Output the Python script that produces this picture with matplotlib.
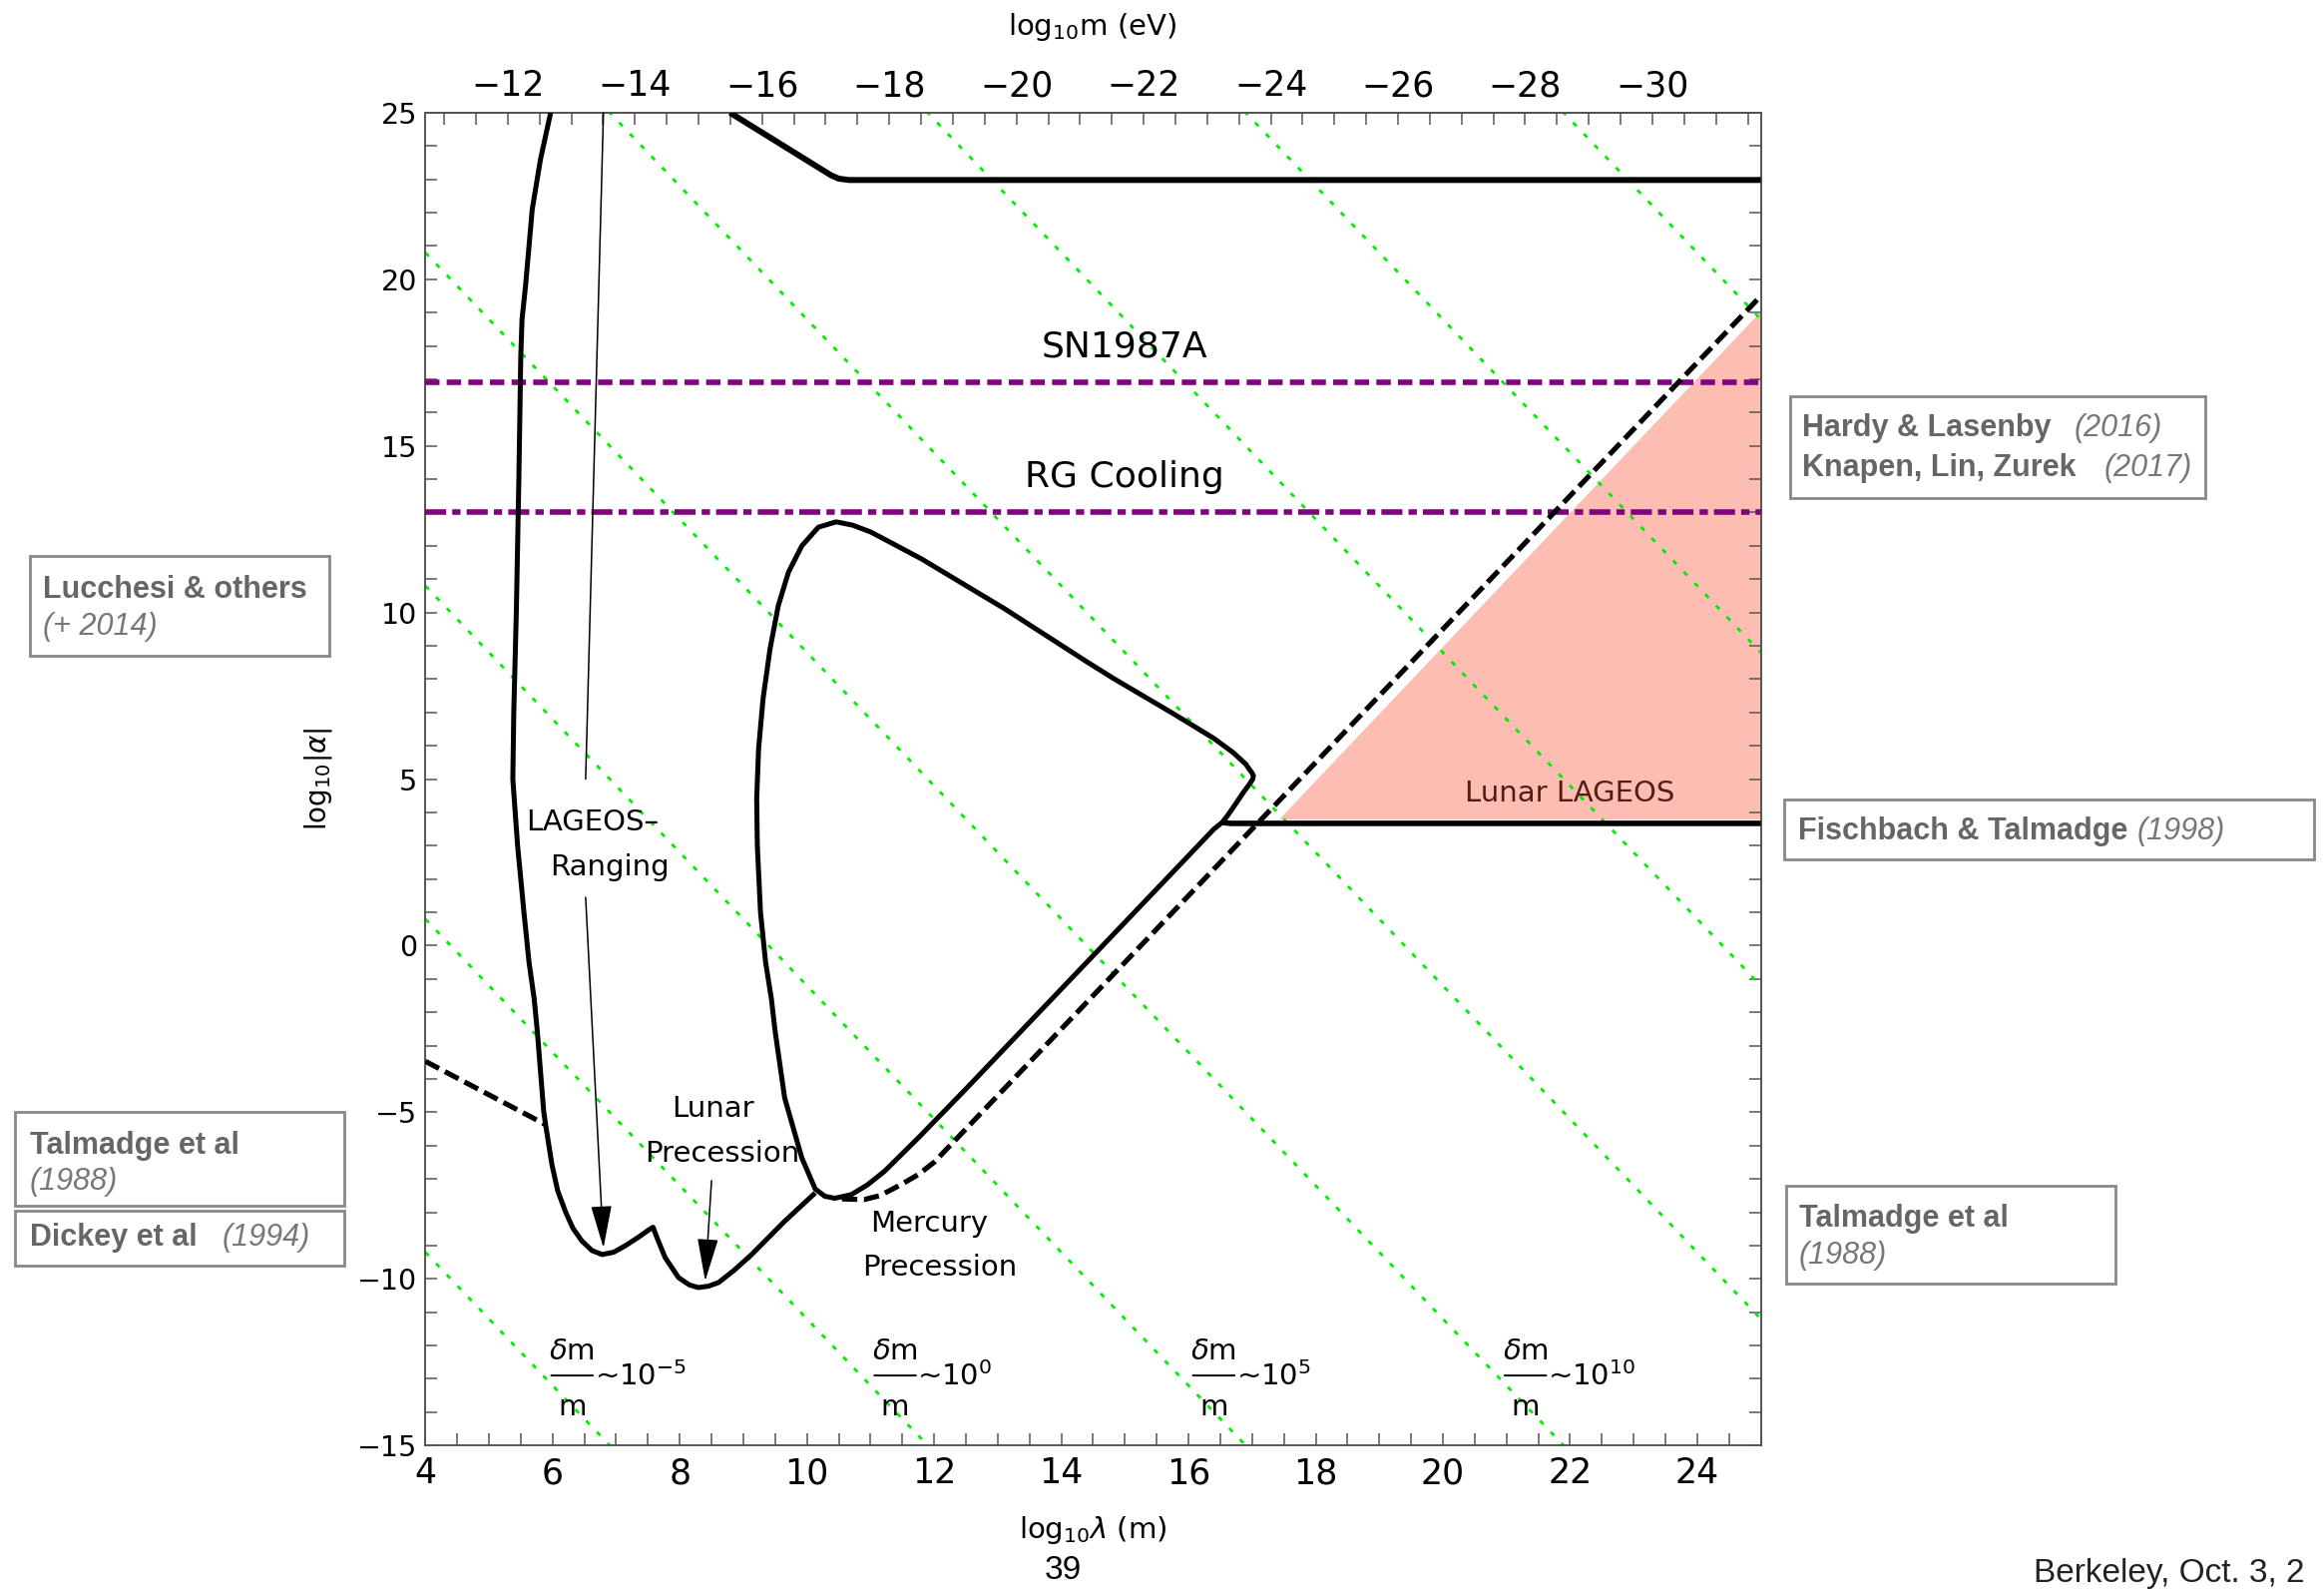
import matplotlib
matplotlib.use('Agg')
import matplotlib.pyplot as plt
from matplotlib.patches import Rectangle, Polygon
from matplotlib.ticker import MultipleLocator
from matplotlib import font_manager

W, H, DPI = 2329, 1593, 100

# ---------------- data ----------------
LOG_HBARC = -6.705          # log10(hbar*c in eV m)

X_TICKS = [4, 6, 8, 10, 12, 14, 16, 18, 20, 22, 24]
Y_TICKS = [-15, -10, -5, 0, 5, 10, 15, 20, 25]
M_TICKS = [-12, -14, -16, -18, -20, -22, -24, -26, -28, -30]

# upper limit (top right)
TOP_X = [8.79, 10.38, 10.50, 10.66, 25.0]
TOP_Y = [25.0, 23.12, 23.02, 22.98, 22.98]

# LAGEOS ranging + lunar precession curve
LAG_X = [5.97, 5.81, 5.68, 5.575, 5.52, 5.50, 5.47, 5.43, 5.39, 5.375, 5.45, 5.55,
         5.63, 5.71, 5.76, 5.86, 5.89, 5.99, 6.08, 6.20, 6.32, 6.46, 6.62, 6.78,
         6.96, 7.14, 7.35, 7.52, 7.58, 7.65, 7.77, 7.98, 8.15, 8.29, 8.45, 8.61,
         8.85, 9.13, 9.65, 10.13]
LAG_Y = [25.0, 23.6, 22.1, 19.8, 18.8, 17.7, 14.0, 10.0, 7.0, 5.0, 3.0, 1.0,
         -0.5, -1.58, -2.57, -4.96, -5.37, -6.57, -7.35, -7.97, -8.48, -8.86, -9.15, -9.27,
         -9.20, -9.01, -8.75, -8.52, -8.45, -8.80, -9.36, -9.96, -10.18, -10.26, -10.22, -10.11,
         -9.75, -9.27, -8.27, -7.42]

# planetary "triangle" loop
TRI_X = [16.53, 16.62, 16.74, 16.87, 16.96, 17.01, 17.02, 17.00, 16.90, 16.70, 16.40,
         15.98, 15.72, 14.83, 14.41, 13.11, 11.80, 11.01, 10.72, 10.46, 10.18, 9.92,
         9.71, 9.55, 9.42, 9.31, 9.24, 9.21, 9.22, 9.27, 9.35, 9.44, 9.50, 9.65, 9.92,
         10.13, 10.28, 10.44, 10.70, 10.95, 11.22, 11.75, 12.50, 14.00, 15.67, 16.40, 16.53]
TRI_Y = [3.70, 3.92, 4.25, 4.62, 4.85, 5.00, 5.10, 5.18, 5.45, 5.80, 6.22,
         6.71, 7.01, 8.01, 8.51, 10.11, 11.61, 12.41, 12.62, 12.72, 12.56, 12.00,
         11.21, 10.21, 8.91, 7.41, 5.91, 4.42, 3.00, 1.00, -0.50, -1.58, -2.57, -4.57, -6.37,
         -7.30, -7.52, -7.58, -7.47, -7.18, -6.77, -5.77, -4.30, -1.30, 2.04, 3.50, 3.70]

# Fischbach & Talmadge horizontal limit
FT_X = [16.53, 16.66, 25.0]
FT_Y = [3.70, 3.67, 3.67]

# Mercury precession (dashed)
MERC_X = [10.55, 10.90, 11.15, 11.48, 11.75, 12.00, 12.30, 13.0, 25.0]
MERC_Y = [-7.60, -7.62, -7.50, -7.17, -6.87, -6.50, -5.90, -4.50, 19.50]

# Talmadge et al (dashed, left)
TALM_X = [4.0, 5.89]
TALM_Y = [-3.47, -5.37]

# Lunar LAGEOS projected region
PINK_X = [17.42, 25.0, 25.0]
PINK_Y = [3.80, 3.80, 19.05]

SN_ALPHA = 16.9
RG_ALPHA = 13.0

# delta m / m iso-lines (values at lambda = 4 and lambda = 25)
GREEN_X = [4.0, 25.0]
GREEN_Y_LEFT = [-9.2, 0.8, 10.8, 20.8, 30.8, 40.8, 50.8, 60.8]
GREEN_Y_RIGHT = [-51.2, -41.2, -31.2, -21.2, -11.2, -1.2, 8.8, 18.8]

DM_LABEL_X = [5.98, 11.06, 16.07, 20.97]
DM_LABEL_EXP = ['-5', '0', '5', '10']
DM_LABEL_Y = -12.9

# arrows
LAGEOS_LINE = [(6.80, 25.0), (6.52, 5.0)]
LAGEOS_ARROW = [(6.52, 1.45), (6.80, -9.07)]
LUNAR_ARROW = [(8.50, -7.05), (8.40, -10.06)]

# ---------------- fonts ----------------
def pick(fams):
    for f in fams:
        try:
            font_manager.findfont(font_manager.FontProperties(family=f), fallback_to_default=False)
            return f
        except Exception:
            pass
    return 'DejaVu Sans'

NARROW = pick(['Liberation Sans Narrow', 'DejaVu Sans'])
HELV = pick(['Liberation Sans', 'DejaVu Sans'])
plt.rcParams['mathtext.fontset'] = 'dejavusans'
plt.rcParams['font.family'] = ['DejaVu Sans']

# ---------------- figure ----------------
fig = plt.figure(figsize=(W / DPI, H / DPI), dpi=DPI)
fig.patch.set_facecolor('white')


def fx(px):
    return px / W


def fy(py):
    return 1 - py / H


AX_L, AX_R, AX_T, AX_B = 426.3, 1764.6, 112.9, 1448.2
ax = fig.add_axes([fx(AX_L), fy(AX_B), (AX_R - AX_L) / W, (AX_B - AX_T) / H])
ax.set_xlim(4, 25)
ax.set_ylim(-15, 25)

SPINE_C = '#555555'
for s in ax.spines.values():
    s.set_color(SPINE_C)
    s.set_linewidth(1.4)

ax.set_xticks(X_TICKS, [str(t) for t in X_TICKS], fontsize=25, fontfamily=NARROW)
ax.set_yticks(Y_TICKS, [str(t).replace('-', '\u2212') for t in Y_TICKS], fontsize=20.5,
              fontfamily='DejaVu Sans')
ax.xaxis.set_minor_locator(MultipleLocator(0.5))
ax.yaxis.set_minor_locator(MultipleLocator(1))
ax.tick_params(which='both', direction='in', length=8.6, width=1.1, color=SPINE_C,
               top=False, right=True, labelright=False)
ax.tick_params(axis='x', pad=8)
ax.tick_params(axis='y', pad=6)


def to_m(x):
    return LOG_HBARC - x


secax = ax.secondary_xaxis('top', functions=(to_m, to_m))
secax.set_xticks(M_TICKS, [str(t).replace('-', '\u2212') for t in M_TICKS], fontsize=25,
                 fontfamily=NARROW)
secax.xaxis.set_minor_locator(MultipleLocator(0.5))
secax.tick_params(which='both', direction='in', length=8.6, width=1.1, color=SPINE_C, pad=7)
for s in secax.spines.values():
    s.set_color(SPINE_C)
    s.set_linewidth(1.4)

# pink region
ax.add_patch(Polygon(list(zip(PINK_X, PINK_Y)), closed=True, fc='#fdbdb3', ec='none', zorder=1))

# green iso-lines
for yl, yr in zip(GREEN_Y_LEFT, GREEN_Y_RIGHT):
    ax.plot(GREEN_X, [yl, yr], color='#00ee00', lw=2.0, ls=(0, (1.8, 3.8)), zorder=2)

# purple astrophysical bounds
ax.axhline(SN_ALPHA, color='#800080', lw=4.0, ls=(0, (2.6, 1.3)), zorder=3)
ax.axhline(RG_ALPHA, color='#800080', lw=4.0, ls=(0, (3.8, 1.1, 1.5, 1.1)), zorder=3)

# black curves
kw = dict(color='black', solid_joinstyle='round', solid_capstyle='butt', zorder=4)
ax.plot(TOP_X, TOP_Y, lw=4.3, **kw)
ax.plot(LAG_X, LAG_Y, lw=3.6, **kw)
ax.plot(TRI_X, TRI_Y, lw=3.6, **kw)
ax.plot(FT_X, FT_Y, lw=4.0, **kw)
dkw = dict(color='black', dash_capstyle='butt', zorder=4)
ax.plot(MERC_X, MERC_Y, lw=3.7, ls=(0, (3.0, 1.3)), **dkw)
ax.plot(TALM_X, TALM_Y, lw=3.7, ls=(0, (3.0, 1.3)), **dkw)

# arrows
ax.annotate('', xy=LAGEOS_LINE[1], xytext=LAGEOS_LINE[0],
            arrowprops=dict(arrowstyle='-', color='black', lw=1.1, shrinkA=0, shrinkB=0), zorder=5)
for (p0, p1) in (LAGEOS_ARROW, LUNAR_ARROW):
    ax.annotate('', xy=p1, xytext=p0,
                arrowprops=dict(arrowstyle='-|>,head_length=1.35,head_width=0.33', color='black',
                                lw=1.1, shrinkA=0, shrinkB=0, mutation_scale=20), zorder=5)

# in-plot labels
tk = dict(fontsize=21, color='black', ha='center', va='center', zorder=6)
ax.text(15.0, 17.97, 'SN1987A', fontsize=26, ha='center', va='center', zorder=6)
ax.text(15.0, 14.05, 'RG Cooling', fontsize=26, ha='center', va='center', zorder=6)
ax.text(6.62, 3.69, 'LAGEOS\u2013', **tk)
ax.text(6.89, 2.35, 'Ranging', **tk)
ax.text(8.52, -4.90, 'Lunar', **tk)
ax.text(8.66, -6.24, 'Precession', **tk)
ax.text(11.92, -8.33, 'Mercury', **tk)
ax.text(12.09, -9.66, 'Precession', **tk)
ax.text(21.99, 4.58, 'Lunar LAGEOS', fontsize=21, color='#561b14', ha='center', va='center', zorder=6)

# delta m / m labels: numerator, fraction bar, denominator, "~10^n"
BAR_PT = 30
for xl, ex in zip(DM_LABEL_X, DM_LABEL_EXP):
    ax.annotate('', xy=(xl, DM_LABEL_Y), xytext=(BAR_PT, 0), textcoords='offset points',
                arrowprops=dict(arrowstyle='-', color='black', lw=1.4, shrinkA=0, shrinkB=0),
                zorder=6)
    ax.annotate(r'$\delta$m', xy=(xl, DM_LABEL_Y), xytext=(BAR_PT / 2, 17),
                textcoords='offset points', fontsize=21, ha='center', va='center', zorder=6)
    ax.annotate('m', xy=(xl, DM_LABEL_Y), xytext=(BAR_PT / 2, -23),
                textcoords='offset points', fontsize=21, ha='center', va='center', zorder=6)
    ax.annotate(r'~10$^{%s}$' % ex.replace('-', '\u2212'), xy=(xl, DM_LABEL_Y),
                xytext=(BAR_PT + 1, -1), textcoords='offset points', fontsize=21,
                ha='left', va='center', zorder=6)

# axis labels
fig.text(fx(1095), fy(27), r'log$_{10}$m (eV)', fontsize=21, ha='center', va='center')
fig.text(fx(1095), fy(1533), r'log$_{10}\lambda$ (m)', fontsize=21, ha='center', va='center')
fig.text(fx(319), fy(780), r'log$_{10}|\alpha|$', fontsize=20, ha='center', va='center',
         rotation=90)

# page decorations
fig.text(fx(1065), fy(1574), '39', fontsize=24, family=HELV, ha='center', va='center')
fig.text(fx(2038), fy(1577), 'Berkeley, Oct. 3, 2', fontsize=24, family=HELV,
         ha='left', va='center', color='#222222')

# reference boxes (outside the axes)
BOX_EC = '#888888'
BOLD_C = '#666666'
ITAL_C = '#777777'


def box(x0, y0, x1, y1):
    fig.add_artist(Rectangle((fx(x0), fy(y1)), (x1 - x0) / W, (y1 - y0) / H,
                             transform=fig.transFigure, fill=False, ec=BOX_EC, lw=2.0))


def btxt(x, y, s):
    fig.text(fx(x), fy(y), s, fontsize=22, fontweight='bold', color=BOLD_C, family=HELV,
             ha='left', va='center')


def itxt(x, y, s):
    fig.text(fx(x), fy(y), s, fontsize=22, fontstyle='italic', color=ITAL_C, family=HELV,
             ha='left', va='center')


box(30, 557, 330, 657)
btxt(43, 591, 'Lucchesi & others')
itxt(43, 628, '(+ 2014)')

box(15, 1114, 345, 1208)
btxt(30, 1148, 'Talmadge et al')
itxt(30, 1184, '(1988)')

box(15, 1213, 345, 1268)
btxt(30, 1240, 'Dickey et al')
itxt(223, 1240, '(1994)')

box(1794, 397, 2210, 499)
btxt(1806, 429, 'Hardy & Lasenby')
itxt(2079, 429, '(2016)')
btxt(1806, 469, 'Knapen, Lin, Zurek')
itxt(2109, 469, '(2017)')

box(1788, 801, 2319, 861)
btxt(1802, 833, 'Fischbach & Talmadge')
itxt(2142, 833, '(1998)')

box(1790, 1188, 2120, 1286)
btxt(1803, 1221, 'Talmadge et al')
itxt(1803, 1258, '(1988)')

fig.savefig('out.png', dpi=DPI, facecolor='white')
